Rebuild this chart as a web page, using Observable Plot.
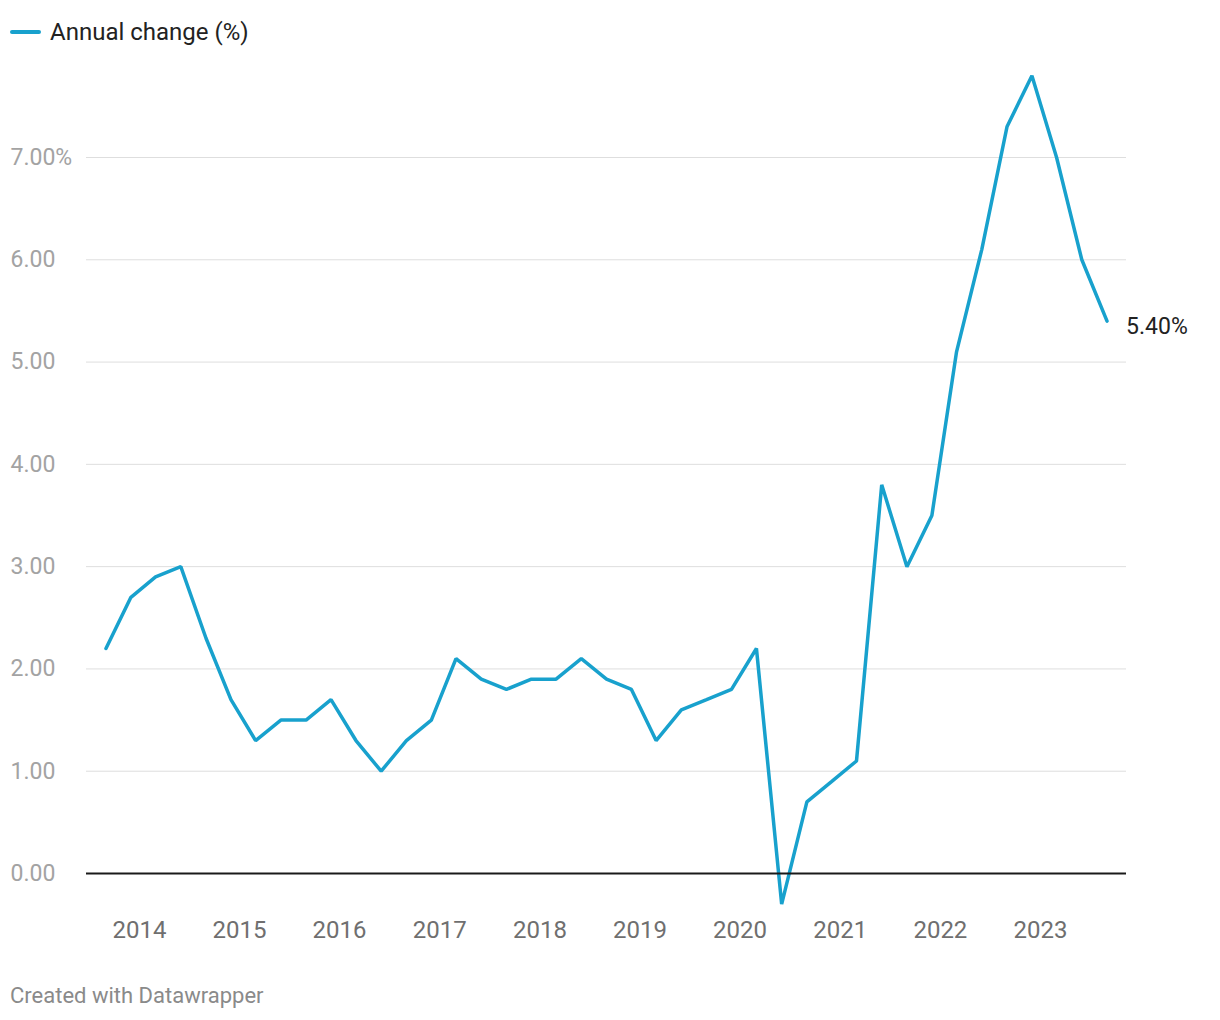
<!DOCTYPE html>
<html>
<head>
<meta charset="utf-8">
<script src="https://cdn.jsdelivr.net/npm/d3@7"></script>
<script src="https://cdn.jsdelivr.net/npm/@observablehq/plot@0.6"></script>
<style>
  html, body { margin: 0; padding: 0; background: #fff; }
  body { width: 1220px; height: 1020px; position: relative; font-family: Roboto, "Noto Sans", sans-serif; overflow: hidden; }
  #legend { position: absolute; left: 10px; top: 17px; height: 30px; display: flex; align-items: center; font-size: 24px; color: #222; }
  #legend .sw { width: 31px; height: 4px; border-radius: 2px; background: #18a1cd; margin-right: 9px; }
  #chart { position: absolute; left: 0; top: 60px; }
  #footer { position: absolute; left: 10px; top: 983px; font-size: 22px; color: #8a8a8a; }
</style>
</head>
<body>
<div id="legend"><span class="sw"></span><span>Annual change (%)</span></div>
<div id="chart"></div>
<div id="footer">Created with Datawrapper</div>
<script>
const dates = [
  "2013-09-01","2013-12-01",
  "2014-03-01","2014-06-01","2014-09-01","2014-12-01",
  "2015-03-01","2015-06-01","2015-09-01","2015-12-01",
  "2016-03-01","2016-06-01","2016-09-01","2016-12-01",
  "2017-03-01","2017-06-01","2017-09-01","2017-12-01",
  "2018-03-01","2018-06-01","2018-09-01","2018-12-01",
  "2019-03-01","2019-06-01","2019-09-01","2019-12-01",
  "2020-03-01","2020-06-01","2020-09-01","2020-12-01",
  "2021-03-01","2021-06-01","2021-09-01","2021-12-01",
  "2022-03-01","2022-06-01","2022-09-01","2022-12-01",
  "2023-03-01","2023-06-01","2023-09-01"
];
const values = [
  2.2, 2.7,
  2.9, 3.0, 2.3, 1.7,
  1.3, 1.5, 1.5, 1.7,
  1.3, 1.0, 1.3, 1.5,
  2.1, 1.9, 1.8, 1.9,
  1.9, 2.1, 1.9, 1.8,
  1.3, 1.6, 1.7, 1.8,
  2.2, -0.3, 0.7, 0.9,
  1.1, 3.8, 3.0, 3.5,
  5.1, 6.1, 7.3, 7.8,
  7.0, 6.0, 5.4
];
const yTicks = [0, 1, 2, 3, 4, 5, 6, 7];
const yTickLabels = ["0.00", "1.00", "2.00", "3.00", "4.00", "5.00", "6.00", "7.00%"];
const xTicks = ["2014","2015","2016","2017","2018","2019","2020","2021","2022","2023"];
const xDomain = ["2013-06-22", "2023-11-11"];
const seriesName = "Annual change (%)";

const data = dates.map((d, i) => ({date: new Date(d), value: values[i]}));
const last = data[data.length - 1];

const chart = Plot.plot({
  width: 1220,
  height: 900,
  marginLeft: 86,
  marginRight: 94,
  marginTop: 97,
  marginBottom: 87,
  style: {fontFamily: "Roboto, sans-serif", background: "#fff"},
  x: {type: "utc", domain: xDomain.map(d => new Date(d))},
  y: {domain: [0, 7]},
  marks: [
    Plot.gridY(yTicks, {stroke: "#dedede", strokeOpacity: 1, strokeWidth: 1}),
    Plot.axisY(yTicks, {
      tickSize: 0, tickPadding: 0, dx: -76, textAnchor: "start",
      tickFormat: (d) => yTickLabels[yTicks.indexOf(d)],
      fontSize: 23, fill: "#a3a3a3", label: null
    }),
    Plot.axisX(xTicks.map(t => new Date(t + "-01-01")), {
      tickSize: 0, tickPadding: 0, dy: 47,
      tickFormat: d => d3.utcFormat("%Y")(d),
      fontSize: 24, fill: "#6f6f6f", label: null
    }),
    Plot.lineY(data, {x: "date", y: "value", stroke: "#18a1cd", strokeWidth: 3.5, strokeLinejoin: "miter", curve: "linear"}),
    Plot.ruleY([0], {stroke: "#1a1a1a", strokeWidth: 2}),
    Plot.text([last], {x: "date", y: "value", text: d => d.value.toFixed(2) + "%", dx: 19, dy: 5, textAnchor: "start", fontSize: 23, fill: "#222"})
  ]
});
document.getElementById("chart").appendChild(chart);
</script>
</body>
</html>
